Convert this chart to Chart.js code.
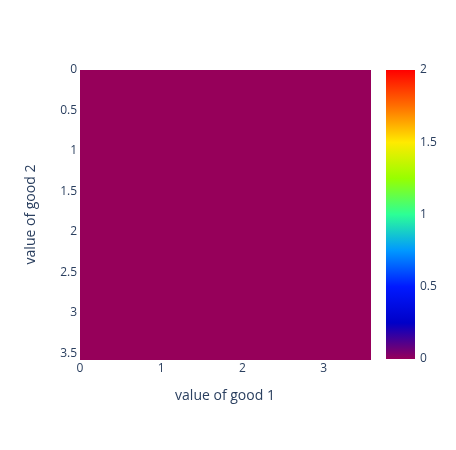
<!DOCTYPE html>
<html>
<head>
<meta charset="utf-8">
<script src="https://cdn.jsdelivr.net/npm/chart.js@4.4.0/dist/chart.umd.min.js"></script>
<style>
  html, body { margin: 0; padding: 0; background: #fff; }
  #wrap { width: 456px; height: 450px; }
</style>
</head>
<body>
<div id="wrap"><canvas id="myChart" width="456" height="450"></canvas></div>
<script>
// cell edges along each good, and the value of each cell (rows = good 2)
const good1Edges = [0, 0.51, 1.02, 1.53, 2.04, 2.55, 3.06, 3.57];
const good2Edges = [0, 0.51, 1.02, 1.53, 2.04, 2.55, 3.06, 3.57];
const zValues = [
    [0, 0, 0, 0, 0, 0, 0],
    [0, 0, 0, 0, 0, 0, 0],
    [0, 0, 0, 0, 0, 0, 0],
    [0, 0, 0, 0, 0, 0, 0],
    [0, 0, 0, 0, 0, 0, 0],
    [0, 0, 0, 0, 0, 0, 0],
    [0, 0, 0, 0, 0, 0, 0]
];
const xTicks = [0, 1, 2, 3];
const yTicks = [0, 0.5, 1, 1.5, 2, 2.5, 3, 3.5];
const colorbarTicks = [0, 0.5, 1, 1.5, 2];
const zMin = 0, zMax = 2;

// plotly "Rainbow" colorscale
const rainbow = [
    [0, [150, 0, 90]], [0.125, [0, 0, 200]], [0.25, [0, 25, 255]],
    [0.375, [0, 152, 255]], [0.5, [44, 255, 150]], [0.625, [151, 255, 0]],
    [0.75, [255, 234, 0]], [0.875, [255, 111, 0]], [1, [255, 0, 0]]
];
const textColor = '#2a3f5f';
const fontFamily = '"Open Sans", verdana, arial, sans-serif';

const colorFor = (z) => {
    let t = (z - zMin) / (zMax - zMin);
    t = Math.max(0, Math.min(1, t));
    for (let k = 1; k < rainbow.length; k++) {
        if (t <= rainbow[k][0]) {
            const [t0, c0] = rainbow[k - 1];
            const [t1, c1] = rainbow[k];
            const f = (t - t0) / (t1 - t0);
            const c = c0.map((v, i) => Math.round(v + (c1[i] - v) * f));
            return `rgb(${c[0]}, ${c[1]}, ${c[2]})`;
        }
    }
    return 'rgb(255, 0, 0)';
};

const heatmapPlugin = {
    id: 'heatmap',
    beforeDatasetsDraw(chart) {
        const ctx = chart.ctx;
        const xs = chart.scales.x, ys = chart.scales.y;
        ctx.save();
        for (let r = 0; r < zValues.length; r++) {
            const y0 = ys.getPixelForValue(good2Edges[r]);
            const y1 = ys.getPixelForValue(good2Edges[r + 1]);
            for (let c = 0; c < zValues[r].length; c++) {
                const x0 = xs.getPixelForValue(good1Edges[c]);
                const x1 = xs.getPixelForValue(good1Edges[c + 1]);
                ctx.fillStyle = colorFor(zValues[r][c]);
                ctx.fillRect(Math.floor(x0), Math.floor(Math.min(y0, y1)),
                    Math.ceil(Math.abs(x1 - x0)) + 1, Math.ceil(Math.abs(y1 - y0)) + 1);
            }
        }
        ctx.restore();
    },
    afterDraw(chart) {
        // colorbar
        const ctx = chart.ctx;
        const area = chart.chartArea;
        const left = area.right + 16, width = 29;
        const top = area.top, bottom = area.bottom;
        ctx.save();
        const grad = ctx.createLinearGradient(0, bottom, 0, top);
        rainbow.forEach(([t, c]) => grad.addColorStop(t, `rgb(${c[0]}, ${c[1]}, ${c[2]})`));
        ctx.fillStyle = grad;
        ctx.fillRect(left, top, width, bottom - top);
        ctx.fillStyle = textColor;
        ctx.font = `12px ${fontFamily}`;
        ctx.textAlign = 'left';
        ctx.textBaseline = 'middle';
        colorbarTicks.forEach((v) => {
            const y = bottom - (v - zMin) / (zMax - zMin) * (bottom - top);
            ctx.fillText(String(v), left + width + 5, y);
        });
        ctx.restore();
    }
};

const ctx = document.getElementById('myChart');
new Chart(ctx, {
    type: 'scatter',
    data: { datasets: [{ data: [], pointRadius: 0 }] },
    options: {
        responsive: false,
        animation: false,
        layout: { padding: { top: 70, right: 86, left: 15, bottom: 46 } },
        plugins: { legend: { display: false }, tooltip: { enabled: false } },
        scales: {
            x: {
                type: 'linear',
                min: good1Edges[0],
                max: good1Edges[good1Edges.length - 1],
                grid: { display: false, drawTicks: false },
                border: { display: false },
                afterBuildTicks: (scale) => { scale.ticks = xTicks.map((v) => ({ value: v })); },
                afterFit: (scale) => { scale.height = 45; },
                ticks: {
                    color: textColor,
                    font: { family: fontFamily, size: 12 },
                    padding: 2,
                    maxRotation: 0,
                    callback: (v) => String(v)
                },
                title: {
                    display: true,
                    text: 'value of good 1',
                    color: textColor,
                    font: { family: fontFamily, size: 14 },
                    padding: { top: 0, bottom: 0 }
                }
            },
            y: {
                type: 'linear',
                reverse: true,
                min: good2Edges[0],
                max: good2Edges[good2Edges.length - 1],
                grid: { display: false, drawTicks: false },
                border: { display: false },
                afterBuildTicks: (scale) => { scale.ticks = yTicks.map((v) => ({ value: v })); },
                afterFit: (scale) => { scale.width = 65; },
                ticks: {
                    color: textColor,
                    font: { family: fontFamily, size: 12 },
                    padding: 3,
                    callback: (v) => String(v)
                },
                title: {
                    display: true,
                    text: 'value of good 2',
                    color: textColor,
                    font: { family: fontFamily, size: 14 },
                    padding: { top: 8 }
                }
            }
        }
    },
    plugins: [heatmapPlugin]
});
</script>
</body>
</html>
